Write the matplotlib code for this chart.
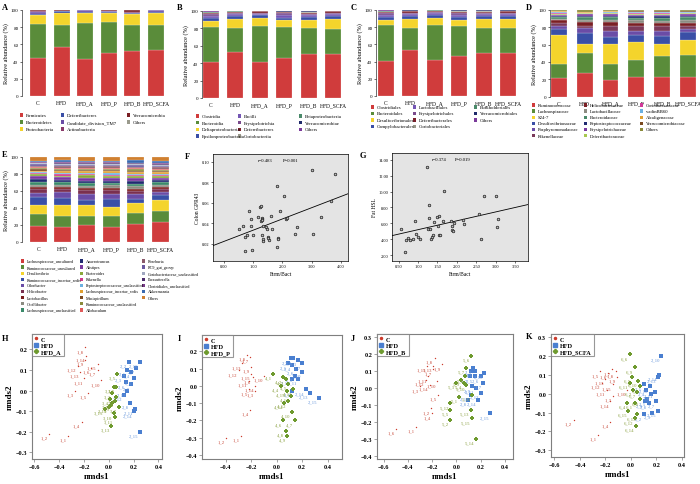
import numpy as np
import matplotlib
matplotlib.use('Agg')
from matplotlib import pyplot as plt
from matplotlib.patches import Rectangle
from matplotlib.lines import Line2D

plt.rcParams['font.family'] = ['Liberation Serif', 'DejaVu Serif']

W, H = 700, 485
fig = plt.figure(figsize=(7, 4.85), dpi=100)


def fx(x):
    return x / W


def fy(y):
    return 1 - y / H


def px_axes(x0, y0, x1, y1):
    return fig.add_axes([x0 / W, 1 - y1 / H, (x1 - x0) / W, (y1 - y0) / H])


groups = ['C', 'HFD', 'HFD_A', 'HFD_P', 'HFD_B', 'HFD_SCFA']

# ---------------- A: phylum ----------------
phylum_labels = ['Firmicutes', 'Bacteroidetes', 'Proteobacteria', 'Deferribacteres',
                 'Candidate_division_TM7', 'Actinobacteria', 'Verrucomicrobia', 'Others']
phylum_colors = ['#d03c3c', '#5a8c3a', '#f4d42c', '#3a4fa6', '#6a4ca6', '#8a3a6a', '#7a1f24', '#9a9a8c']
phylum_vals = [[44, 40, 10, 1.5, 2.5, 0.5, 1, 0.5],
               [57, 26, 14, 1.5, 0.5, 0.3, 0.2, 0.5],
               [43, 41.5, 12, 1.5, 1.5, 0.2, 0.1, 0.2],
               [50.5, 35, 11.5, 1, 1, 0.3, 0.2, 0.5],
               [52, 30, 13, 1, 1, 0.5, 2, 0.5],
               [53.5, 29, 14, 1.5, 1.5, 0.2, 0.1, 0.2]]

# ---------------- B: class ----------------
class_labels = ['Clostridia', 'Bacteroidia', 'Deltaproteobacteria', 'Epsilonproteobacteria',
                'Bacilli', 'Erysipelotrichia', 'Deferribacteres', 'Coriobacteriia',
                'Betaproteobacteria', 'Verrucomicrobiae', 'Others']
class_colors = ['#d03c3c', '#5a8c3a', '#f4d42c', '#3a4fa6', '#7456b4', '#7a4a8c', '#7a1f2a',
                '#9a9a8c', '#4a8a6a', '#1f2a6a', '#7a3a9a']
class_vals = [[41, 41, 7, 3, 2, 2, 1.5, 0.5, 0.5, 0.5, 1],
              [53, 27, 11, 3, 2, 1.5, 1.5, 0.3, 0.2, 0.2, 0.3],
              [41, 42, 9, 3, 1.5, 1.5, 1.5, 0.2, 0.1, 0.1, 0.1],
              [45.5, 36.5, 7.5, 3, 3, 2, 1, 0.3, 0.5, 0.2, 0.5],
              [50.5, 29.5, 10, 3.5, 2, 1.5, 1, 0.3, 0.2, 1, 0.5],
              [51, 28, 12, 3.5, 2, 1.5, 1.5, 0.2, 0.1, 0.1, 0.1]]

# ---------------- C: order ----------------
order_labels = ['Clostridiales', 'Bacteroidales', 'Desulfovibrionales', 'Campylobacterales',
                'Lactobacillales', 'Erysipelotrichales', 'Deferribacterales', 'Coriobacteriales',
                'Burkholderiales', 'Verrucomicrobiales', 'Others']
order_colors = class_colors
order_vals = [[41, 41, 6.5, 3, 2.5, 2, 1.5, 0.5, 0.5, 0.5, 1],
              [53, 26.5, 10.5, 3.5, 2, 1.5, 1.5, 0.3, 0.3, 0.4, 0.5],
              [41.5, 40.5, 9, 3.5, 1.5, 1.5, 1.5, 0.3, 0.2, 0.2, 0.3],
              [46, 35.5, 7, 3, 3, 2, 1.5, 0.3, 1, 0.2, 0.5],
              [50, 29.5, 10, 3.5, 2.5, 1.5, 1, 0.3, 0.2, 1, 0.5],
              [50.5, 28.5, 11, 3.5, 2, 1.5, 1.5, 0.5, 0.3, 0.2, 0.5]]

# ---------------- D: family ----------------
family_labels = ['Ruminococcaceae', 'Lachnospiraceae', 'S24-7', 'Desulfovibrionaceae',
                 'Porphyromonadaceae', 'Rikenellaceae', 'Helicobacteraceae', 'Lactobacillaceae',
                 'Bacteroidaceae', 'Peptostreptococcaceae', 'Erysipelotrichaceae',
                 'Deferribacteraceae', 'Coriobacteriaceae', 'vadinBB60', 'Alcaligenaceae',
                 'Verrucomicrobiaceae', 'Others']
family_colors = ['#d03c3c', '#5a8c3a', '#f4d42c', '#3a4fa6', '#6a4ca6', '#7a3a5a', '#7a1f24',
                 '#8c8c82', '#4a8a6a', '#202a70', '#7a3aa0', '#a8c850', '#d03a9a', '#6ab0e0',
                 '#e0a030', '#7a4a20', '#8a8a3a']
family_vals = [[21, 16.5, 34, 6.5, 4, 3, 3, 2, 2, 1.5, 1, 1, 1, 1, 1, 0.5, 1],
               [27, 23, 11, 12, 6, 3, 4, 3, 3, 1.5, 1.5, 1, 0.5, 0.5, 0.5, 0.5, 2],
               [19, 18.5, 23, 8.5, 7, 6, 4, 3, 3, 1.5, 1.5, 1, 1, 1, 0.5, 0.5, 1],
               [23, 19, 21, 8, 5, 5, 4, 3, 3, 2, 1.5, 1, 1, 1, 0.5, 0.5, 1.5],
               [23, 24, 14, 9, 6, 5, 3.5, 3, 3.5, 2, 1.5, 1, 1, 1, 0.5, 0.5, 1.5],
               [23, 25, 17, 9, 4, 4, 3.5, 3, 3, 2, 1.5, 1, 1, 0.5, 0.5, 0.5, 1.5]]

# ---------------- E: genus ----------------
genus_labels = ['Lachnospiraceae_uncultured', 'Ruminococcaceae_uncultured', 'Desulfovibrio',
                'Ruminococcaceae_incertae_sedis', 'Odoribacter', 'Helicobacter', 'Lactobacillus',
                'Oscillibacter', 'Lachnospiraceae_unclassified', 'Anaerotruncus', 'Alistipes',
                'Bacteroides', 'Rikenella', 'Peptostreptococcaceae_unclassified',
                'Lachnospiraceae_incertae_sedis', 'Mucispirillum', 'Ruminococcaceae_unclassified',
                'Allobaculum', 'Roseburia', 'RC9_gut_group', 'Coriobacteriaceae_unclassified',
                'Parasutterella', 'Clostridiales_unclassified', 'Akkermansia', 'Others']
genus_colors = ['#d03c3c', '#5a8c3a', '#f4d42c', '#3a4fa6', '#6a4ca6', '#7a3050', '#7a1e1e',
                '#8c8c82', '#3a8a6a', '#202a70', '#7a3aa0', '#8aa83a', '#d03a8a', '#6ab0e0',
                '#e0a030', '#7a4a20', '#8a8a3a', '#e05a5a', '#8a5a6a', '#6a5aa0', '#a0a8c0',
                '#4a2a6a', '#7a3a8a', '#3a6ab0', '#d08030']
genus_vals = [[19, 14, 11, 9, 4.5, 5, 2, 3, 3, 4, 3, 2, 1.5, 1.5, 1.5, 1.5, 1.5, 1, 2, 1.5, 1, 1, 1, 1, 4.5],
              [17.5, 13, 12.5, 9, 7, 3, 2.5, 3, 3, 2.5, 3, 2, 1.5, 1.5, 2, 1.5, 1.5, 1, 2, 2, 1, 1, 1, 2, 4],
              [19.5, 11, 12.5, 6, 8, 4, 2, 3, 3, 3, 3.5, 3, 1.5, 1.5, 1.5, 1.5, 1.5, 1, 2, 2, 1, 1, 1, 1.5, 4.5],
              [17.5, 13.5, 10, 10, 6, 4, 3, 3, 2.5, 2.5, 3, 2.5, 1.5, 2.5, 1.5, 1.5, 1.5, 1, 2, 2, 1, 1, 1, 1.5, 4.5],
              [21.5, 13, 11.5, 5, 6, 3, 2.5, 3, 3, 3, 3.5, 2.5, 1.5, 1.5, 2, 1.5, 1.5, 1, 2, 2, 1, 1, 1, 2.5, 4],
              [23.5, 12.5, 14, 5, 4, 3, 3, 2.5, 3, 2.5, 2.5, 2, 1.5, 1.5, 1.5, 1.5, 1.5, 1, 2, 2, 1, 1, 1, 2, 5]]

# ---------------- F, G: correlation ----------------
F_x = [0.52, 0.65, 0.72, 0.80, 0.85, 0.92, 0.92, 0.99, 0.73, 0.97, 1.19, 1.23, 1.28, 1.26, 1.30,
       1.31, 1.32, 1.34, 1.31, 1.33, 1.36, 1.45, 1.49, 1.50, 1.55, 1.52, 1.63, 1.66, 1.83, 1.85,
       1.85, 1.83, 1.91, 2.05, 2.13, 2.16, 2.44, 2.49, 3.05, 3.02, 3.31, 3.67, 3.81]
F_y = [0.0347, 0.0374, 0.0269, 0.0282, 0.052, 0.0374, 0.0439, 0.0282, 0.0129, 0.0135, 0.0465,
       0.056, 0.0563, 0.0423, 0.0455, 0.0439, 0.0432, 0.0374, 0.0282, 0.0243, 0.0227, 0.0367,
       0.0341, 0.0269, 0.0236, 0.0253, 0.0471, 0.0341, 0.0765, 0.0259, 0.0243, 0.0168, 0.052,
       0.0667, 0.0445, 0.0449, 0.0299, 0.0364, 0.0299, 0.0922, 0.0465, 0.0612, 0.0879]
G_x = [0.56, 0.67, 0.70, 0.74, 0.80, 0.86, 0.93, 0.95, 0.99, 1.04, 1.23, 1.25, 1.28, 1.29, 1.31,
       1.34, 1.36, 1.38, 1.40, 1.48, 1.53, 1.51, 1.54, 1.57, 1.65, 1.68, 1.86, 1.87, 1.88, 1.89,
       1.93, 2.17, 2.19, 2.57, 2.62, 2.70, 3.00, 3.02, 3.06]
G_y = [5.35, 2.40, 3.92, 4.13, 3.92, 4.0, 6.31, 4.63, 4.29, 4.0, 13.12, 5.35, 8.33, 6.73, 5.26,
       4.0, 4.29, 4.55, 6.23, 6.82, 6.94, 5.68, 4.50, 4.50, 6.31, 10.01, 6.31, 5.68, 5.18, 5.09,
       6.10, 6.44, 5.89, 7.15, 4.08, 9.38, 9.38, 5.60, 6.61]

# ---------------- H-K: NMDS ----------------
H_C = [(-0.33, -0.22), (-0.48, -0.21), (-0.27, 0.0), (-0.22, -0.15), (-0.17, -0.01), (-0.14, 0.11),
       (-0.09, 0.10), (-0.19, 0.21), (-0.19, 0.15), (-0.06, 0.05), (-0.2, 0.06), (-0.25, 0.12),
       (-0.23, 0.09), (-0.18, 0.17), (-0.09, 0.13)]
H_HFD = [(0.15, 0.10), (0.16, 0.14), (0.12, 0.07), (0.18, 0.09), (0.20, 0.06), (0.14, 0.04),
         (0.22, 0.11), (0.17, -0.06), (0.18, 0.03), (0.25, 0.14), (0.21, -0.09), (0.12, -0.02),
         (0.15, 0.0), (0.20, -0.10), (0.25, -0.20)]
H_T = [(0.04, 0.02), (0.06, -0.03), (0.03, -0.01), (0.01, -0.04), (0.07, 0.08), (0.05, -0.05),
       (0.08, -0.08), (0.06, 0.02), (0.02, -0.07), (0.04, -0.11), (0.05, -0.13), (0.03, -0.06),
       (0.02, -0.17), (0.0, -0.08), (-0.03, -0.09)]
I_C = [(-0.28, -0.29), (-0.40, -0.30), (-0.17, -0.03), (-0.21, -0.14), (-0.22, -0.02), (-0.19, 0.05),
       (-0.21, 0.17), (-0.23, 0.18), (-0.2, 0.11), (-0.1, 0.06), (-0.22, 0.03), (-0.3, 0.09),
       (-0.27, 0.13), (-0.17, 0.0), (-0.2, 0.07)]
I_HFD = [(0.09, 0.13), (0.13, 0.16), (0.17, 0.15), (0.12, 0.12), (0.11, 0.16), (0.15, 0.10),
         (0.20, 0.13), (0.12, -0.03), (0.14, 0.06), (0.2, 0.08), (0.17, 0.04), (0.12, 0.04),
         (0.26, -0.04), (0.23, -0.02), (0.33, -0.07)]
I_T = [(-0.03, 0.07), (0.05, 0.05), (0.07, 0.04), (0.03, 0.0), (0.09, 0.01), (0.05, -0.20),
       (0.14, -0.20), (0.07, -0.26), (0.08, -0.29), (0.12, -0.15), (0.11, -0.06), (0.09, -0.09),
       (0.13, -0.02), (0.06, -0.1), (0.08, -0.03)]
J_C = [(-0.33, -0.23), (-0.21, -0.12), (-0.30, 0.01), (-0.20, -0.15), (-0.15, -0.04), (-0.50, -0.24),
       (-0.19, 0.11), (-0.18, 0.18), (-0.12, 0.14), (-0.16, 0.04), (-0.23, 0.07), (-0.25, 0.05),
       (-0.19, 0.13), (-0.22, 0.02), (-0.24, 0.13)]
J_HFD = [(0.15, 0.10), (0.11, 0.07), (0.14, 0.12), (0.12, 0.10), (0.15, 0.07), (0.20, 0.07),
         (0.22, 0.03), (0.10, -0.07), (0.13, 0.01), (0.23, 0.09), (0.16, 0.0), (0.12, -0.04),
         (0.20, -0.03), (0.18, -0.07), (0.28, -0.15)]
J_T = [(0.02, -0.05), (-0.05, -0.19), (0.0, 0.03), (0.06, 0.03), (-0.05, -0.13), (0.12, 0.19),
       (0.08, 0.12), (0.07, 0.07), (0.04, 0.05), (0.08, 0.02), (0.13, -0.04), (-0.05, -0.09),
       (0.12, -0.13), (0.16, -0.30), (0.13, -0.18)]
K_C = [(-0.26, -0.22), (-0.45, -0.14), (-0.14, -0.01), (-0.16, -0.15), (-0.24, 0.12), (-0.18, 0.11),
       (-0.15, 0.13), (-0.12, 0.12), (-0.11, 0.09), (-0.03, 0.02), (-0.19, 0.02), (-0.23, 0.06),
       (-0.20, 0.08), (-0.16, -0.04), (-0.14, 0.05)]
K_HFD = [(0.10, 0.05), (0.10, -0.11), (0.17, -0.10), (0.12, 0.02), (0.13, -0.03), (0.16, 0.0),
         (0.20, -0.04), (0.14, -0.05), (0.11, -0.04), (0.24, 0.20), (0.19, 0.01), (0.15, 0.04),
         (0.21, 0.09), (0.22, 0.10), (0.21, -0.09)]
K_T = [(0.03, -0.05), (0.02, 0.02), (0.07, 0.04), (-0.03, -0.05), (0.01, 0.09), (-0.01, 0.21),
       (0.05, 0.01), (0.07, -0.03), (0.03, 0.14), (0.06, 0.07), (-0.01, 0.06), (0.03, -0.13),
       (0.05, -0.11), (0.04, -0.17), (-0.02, -0.09)]


def letter(x, y, s):
    fig.text(fx(x), fy(y), s, fontsize=6, fontweight='bold', va='top', ha='left')


def legend_cols(labels, colors, xs, counts, y0, dy, fs=3.5):
    i = 0
    for x, n in zip(xs, counts):
        for r in range(n):
            yy = y0 + r * dy
            fig.add_artist(Rectangle((fx(x), fy(yy + 1.7)), 3.4 / W, 3.4 / H,
                                     transform=fig.transFigure, facecolor=colors[i],
                                     edgecolor='none'))
            fig.text(fx(x + 6), fy(yy), labels[i], fontsize=fs, va='center', ha='left')
            i += 1


def bar_panel(box, xlim, vals, colors, width):
    ax = px_axes(*box)
    data = np.array(vals, dtype=float).T
    x = np.arange(len(groups))
    bottom = np.zeros(len(groups))
    for row, c in zip(data, colors):
        ax.bar(x, row, width, bottom=bottom, color=c, edgecolor='white', linewidth=0.15)
        bottom += row
    ax.set_xlim(*xlim)
    ax.set_ylim(0, 100)
    ax.set_yticks(range(0, 101, 20))
    ax.set_xticks(x)
    ax.set_xticklabels(groups, fontsize=4)
    ax.tick_params(axis='x', length=0, pad=3)
    ax.tick_params(axis='y', length=1.5, width=0.4, labelsize=3.6, pad=1)
    for s in ['top', 'right', 'bottom']:
        ax.spines[s].set_visible(False)
    ax.spines['left'].set_linewidth(0.4)
    ax.set_ylabel('Relative abundance (%)', fontsize=4.5, labelpad=1.5)
    return ax


bar_panel([22, 11, 168, 97], (-0.68, 5.51), phylum_vals, phylum_colors, 0.68)
letter(2, 4, 'A')
legend_cols(phylum_labels, phylum_colors, [20, 61, 127], [3, 3, 2], 116, 7)

bar_panel([202, 12, 345, 99], (-0.37, 5.49), class_vals, class_colors, 0.66)
letter(177, 4, 'B')
legend_cols(class_labels, class_colors, [196, 238, 299], [4, 4, 3], 117, 6.7)

bar_panel([376, 11, 520, 97], (-0.41, 5.49), order_vals, order_colors, 0.66)
letter(351, 4, 'C')
legend_cols(order_labels, order_colors, [371, 413, 474], [4, 4, 3], 108, 6.4)

bar_panel([550, 11, 699, 97.5], (-0.35, 5.43), family_vals, family_colors, 0.61)
letter(526, 4, 'D')
legend_cols(family_labels, family_colors, [532, 584, 640], [6, 6, 5], 106, 6.1, fs=3.4)

bar_panel([22, 158, 172, 243], (-0.66, 5.49), genus_vals, genus_colors, 0.7)
letter(2, 151, 'E')
legend_cols(genus_labels, genus_colors, [21, 80, 142], [9, 9, 7], 262, 6.1, fs=3.0)


def corr_panel(box, xs, ys, xlim, ylim, xticks, yticks, ylabel, rtxt, ptxt, rx, px_):
    ax = px_axes(*box)
    ax.set_facecolor('#e4e4e4')
    ax.scatter(xs, ys, s=3.5, facecolors='#bdbdbd', edgecolors='#1a1a1a', linewidths=0.5, zorder=3)
    k, b = np.polyfit(xs, ys, 1)
    xx = np.array(xlim)
    ax.plot(xx, k * xx + b, color='black', lw=0.6, zorder=2)
    ax.set_xlim(*xlim)
    ax.set_ylim(*ylim)
    ax.set_xticks(xticks)
    ax.set_yticks(yticks)
    ax.xaxis.set_major_formatter(matplotlib.ticker.FormatStrFormatter('%.2f'))
    ax.yaxis.set_major_formatter(matplotlib.ticker.FormatStrFormatter('%.2f'))
    ax.tick_params(labelsize=3.2, length=1.5, width=0.4, pad=1)
    for s in ax.spines.values():
        s.set_linewidth(0.5)
    ax.set_xlabel('Firm/Bact', fontsize=4, labelpad=1.5)
    ax.set_ylabel(ylabel, fontsize=4, labelpad=1.5)
    ax.text(rx, 0.94, rtxt, transform=ax.transAxes, fontsize=3.4, va='center')
    ax.text(px_, 0.94, ptxt, transform=ax.transAxes, fontsize=3.4, va='center')
    return ax


corr_panel([213, 155, 348, 262], F_x, F_y, (-0.36, 4.24), (0.0031, 0.1075),
           [0, 1, 2, 3, 4], [0.02, 0.04, 0.06, 0.08, 0.10], 'Colon GPR43',
           'r=0.483', 'P=0.001', 0.33, 0.52)
letter(185, 153, 'F')
corr_panel([392, 154, 528, 262], G_x, G_y, (0.33, 3.83), (1.27, 14.84),
           [0.5, 1.0, 1.5, 2.0, 2.5, 3.0, 3.5], [2, 4, 6, 8, 10, 12, 14], 'Fat HSL',
           'r=0.374', 'P=0.019', 0.29, 0.46)
letter(360, 152, 'G')

red, blue, green = '#cc3b2c', '#4a7fd0', '#6e9a2e'
red_t, blue_t, green_t = '#c84a3a', '#6a98dc', '#8aa040'


def nmds_panel(box, groups_pts, tname, tnum, xlim, ylim, xticks, yticks):
    ax = px_axes(*box)
    styles = [(red, red_t, '.', 4, '1'), (blue, blue_t, 's', 5, '2'), (green, green_t, 'P', 8, str(tnum))]
    for pts, (c, tc, m, sz, pre) in zip(groups_pts, styles):
        arr = np.array(pts)
        ax.scatter(arr[:, 0], arr[:, 1], s=sz, marker=m, color=c, linewidths=0, zorder=3)
        for i, (x, y) in enumerate(pts):
            ax.annotate(f'{pre}_{i + 1}', (x, y), xytext=(-1, -1.2), textcoords='offset points',
                        fontsize=3.4, color=tc, ha='right', va='top')
    ax.set_xlim(*xlim)
    ax.set_ylim(*ylim)
    ax.set_xticks(xticks)
    ax.set_yticks(yticks)
    ax.tick_params(labelsize=4.5, length=2, width=0.5, color='#7f7f7f', pad=1.5)
    for lab in ax.get_xticklabels() + ax.get_yticklabels():
        lab.set_fontweight('bold')
    for s in ax.spines.values():
        s.set_color('#7f7f7f')
        s.set_linewidth(0.8)
    ax.set_xlabel('nmds1', fontsize=6.5, fontweight='bold', labelpad=2)
    ax.set_ylabel('nmds2', fontsize=6.5, fontweight='bold', labelpad=1)
    handles = [Line2D([], [], ls='none', marker='.', color=red, ms=3),
               Line2D([], [], ls='none', marker='s', color=blue, ms=2.2),
               Line2D([], [], ls='none', marker='P', color=green, ms=2.8)]
    leg = ax.legend(handles, ['C', 'HFD', tname], loc='upper left', borderaxespad=0,
                    fancybox=False, prop={'weight': 'bold', 'size': 4.5}, handlelength=0.6,
                    handletextpad=0.5, labelspacing=0.15, borderpad=0.35)
    leg.get_frame().set_edgecolor('#7f7f7f')
    leg.get_frame().set_linewidth(0.8)
    return ax


nmds_panel([32, 335, 162, 460], [H_C, H_HFD, H_T], 'HFD_A', 3, (-0.62, 0.43), (-0.332, 0.275),
           [-0.6, -0.4, -0.2, 0.0, 0.2, 0.4], [-0.3, -0.2, -0.1, 0.0, 0.1, 0.2])
letter(2, 335, 'H')
nmds_panel([202, 336, 342, 460], [I_C, I_HFD, I_T], 'HFD_P', 4, (-0.587, 0.513), (-0.424, 0.295),
           [-0.4, -0.2, 0.0, 0.2, 0.4], [-0.4, -0.3, -0.2, -0.1, 0.0, 0.1, 0.2])
letter(178, 335, 'I')
nmds_panel([377, 335, 513, 460], [J_C, J_HFD, J_T], 'HFD_B', 5, (-0.654, 0.467), (-0.42, 0.32),
           [-0.6, -0.4, -0.2, 0.0, 0.2, 0.4], [-0.4, -0.3, -0.2, -0.1, 0.0, 0.1, 0.2, 0.3])
letter(351, 335, 'J')
nmds_panel([551, 335, 684, 458], [K_C, K_HFD, K_T], 'HFD_SCFA', 6, (-0.627, 0.418), (-0.336, 0.318),
           [-0.6, -0.4, -0.2, 0.0, 0.2, 0.4], [-0.3, -0.2, -0.1, 0.0, 0.1, 0.2, 0.3])
letter(526, 333, 'K')

fig.savefig('out.png', dpi=100)
